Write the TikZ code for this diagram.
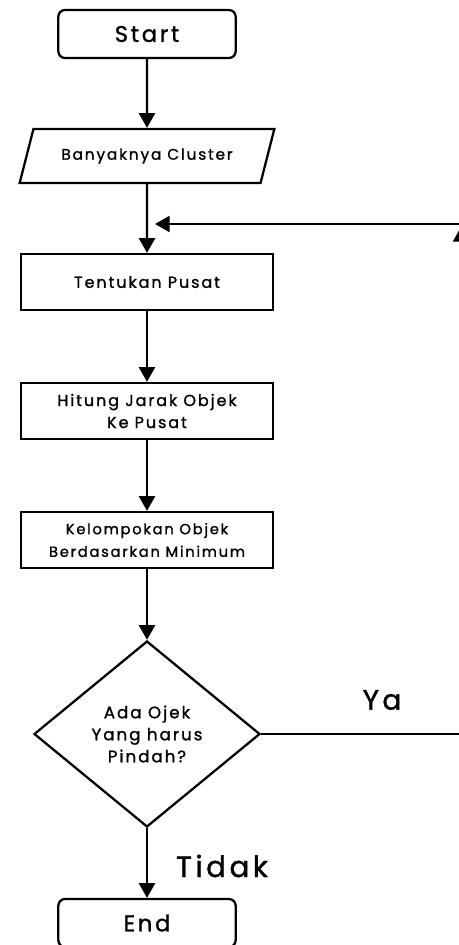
\documentclass[tikz,border=0pt]{standalone}
\usepackage{fontspec}
\setmainfont{Poppins}[LetterSpace=12, FakeBold=1.2]
\usepackage{tikz}
\usetikzlibrary{arrows.meta,shapes.geometric,positioning}

\begin{document}
\begin{tikzpicture}[x=0.75pt, y=-0.75pt, >={Triangle[length=11pt,width=12pt]}, line width=1.7pt,
		terminal/.style={draw, rounded corners=5pt, minimum width=133pt, minimum height=36pt, inner sep=0pt},
		process/.style={draw, minimum width=189pt, minimum height=42pt, inner sep=0pt, align=center,
			font=\fontsize{12}{16.5}\selectfont},
		inout/.style={draw, trapezium, trapezium left angle=48, trapezium right angle=132,
			trapezium stretches body, minimum width=191pt, minimum height=40.5pt, inner sep=0pt,
			font=\fontsize{11.5}{16.5}\selectfont},
		decision/.style={draw, diamond, minimum width=169.5pt, minimum height=139.5pt, inner sep=0pt,
			align=center, font=\fontsize{12.5}{16.5}\selectfont}]
		% 1. Page frame (the picture is cut at the right and at the bottom)
		\clip (0,0) rectangle (459,945);

		% 2. The steps
		\node[terminal, font=\fontsize{17}{20}\selectfont] (start) at (147,34) {Start};
		\node[inout] (input) at (147,156) {Banyaknya Cluster};
		\node[process] (pusat) at (147,282) {Tentukan Pusat};
		\node[process] (jarak) at (147,411) {Hitung Jarak Objek\\Ke Pusat};
		\node[process, font=\fontsize{11}{17}\selectfont] (kelompok) at (147,540) {Kelompokan Objek\\Berdasarkan Minimum};
		\node[decision] (cek) at (147,734) {Ada Ojek\\Yang harus\\Pindah?};
		\node[terminal, font=\fontsize{17}{20}\selectfont] (stop) at (147,923) {End};

		% 3. Labels on the two exits
		\node[font=\fontsize{21}{24}\selectfont] (ya) at (382,700) {Ya};
		\node[font=\fontsize{22}{26}\selectfont] (tidak) at (222,866) {Tidak};

		% 4. Main flow
		\draw[->] (start) -- (input);
		\draw[->] (input) -- (pusat);
		\draw[->] (pusat) -- (jarak);
		\draw[->] (jarak) -- (kelompok);
		\draw[->] (kelompok) -- (cek);
		\draw[->] (cek) -- (stop);

		% 5. Loop back when objects still move
		\coordinate (loopUp) at (461,227);
		\coordinate (loopTop) at (461,224);
		\coordinate (loopEnd) at (155,224);
		\draw[->] (cek.east) -| (loopUp);
		\draw[->] (loopTop) -- (loopEnd);
	\end{tikzpicture}
\end{document}
